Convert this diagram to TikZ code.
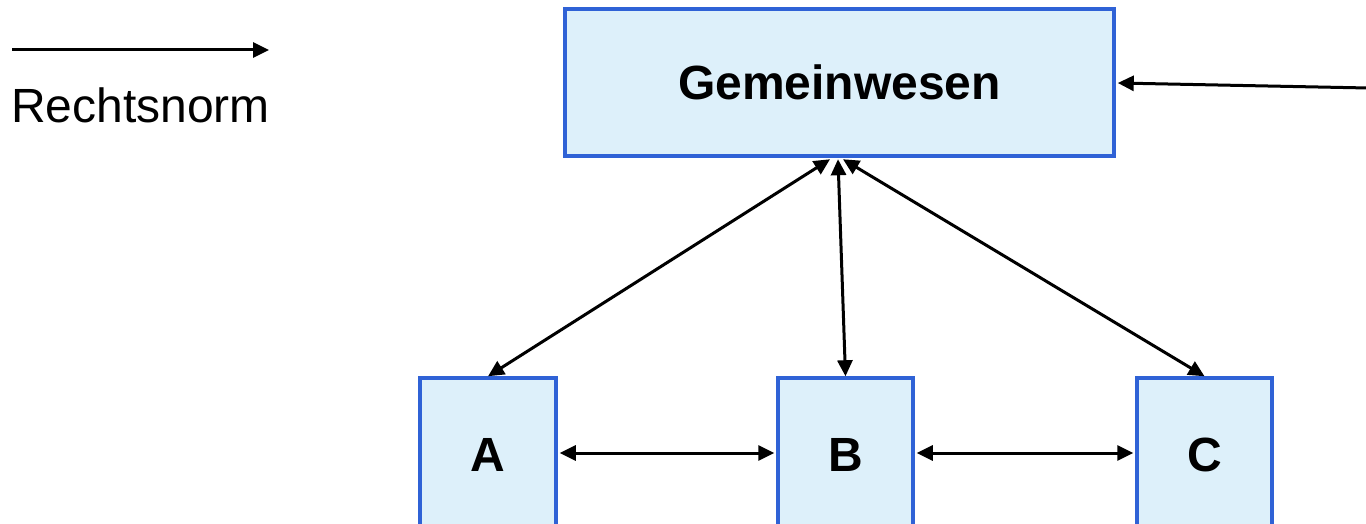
\documentclass[tikz,border=0pt]{standalone}
\usepackage{fontspec}
\setmainfont{Liberation Sans}
\usetikzlibrary{arrows.meta,calc}
\definecolor{boxfill}{HTML}{DDF0FA}
\definecolor{boxline}{HTML}{2F62D6}
\tikzset{
  box/.style={draw=boxline, line width=3.5pt, fill=boxfill, inner sep=0pt,
    font=\fontsize{48}{52}\selectfont\bfseries},
  conn/.style={line width=3pt, -{Triangle[length=16pt,width=15pt]}},
  bconn/.style={line width=3pt, {Triangle[length=16pt,width=15pt]}-{Triangle[length=16pt,width=15pt]}},
}
\begin{document}
\begin{tikzpicture}[x=1pt,y=-1pt]
\useasboundingbox (0,0) rectangle (1366,524);
\clip (0,0) rectangle (1366,524);
\node[box, minimum width=549pt, minimum height=147pt] (G) at (839.5,82.5) {Gemeinwesen};
\node[box, minimum width=136pt, minimum height=154pt] (A) at (488,455) {A};
\node[box, minimum width=135pt, minimum height=154pt] (B) at (845.5,455) {B};
\node[box, minimum width=135pt, minimum height=154pt] (C) at (1204.5,455) {C};
\coordinate (L1) at (12,50);
\coordinate (L2) at (269,50);
\draw[conn] (L1) -- (L2);
\node[font=\fontsize{48}{52}\selectfont, anchor=west, inner sep=0pt] (R) at (11,105) {Rechtsnorm};
\coordinate (E) at (1368,88);
\draw[conn] (E) -- ($(G.east)+(2,0.5)$);
\draw[bconn] ($(G.south)+(-9.5,1.5)$) -- (A.north);
\draw[bconn] ($(G.south)+(-1.5,1.5)$) -- (B.north);
\draw[bconn] ($(G.south)+(3.5,1.5)$) -- (C.north);
\draw[bconn] ($(A.east)+(2,-2)$) -- ($(B.west)+(-2,-2)$);
\draw[bconn] ($(B.east)+(2,-2)$) -- ($(C.west)+(-2,-2)$);
\end{tikzpicture}
\end{document}
